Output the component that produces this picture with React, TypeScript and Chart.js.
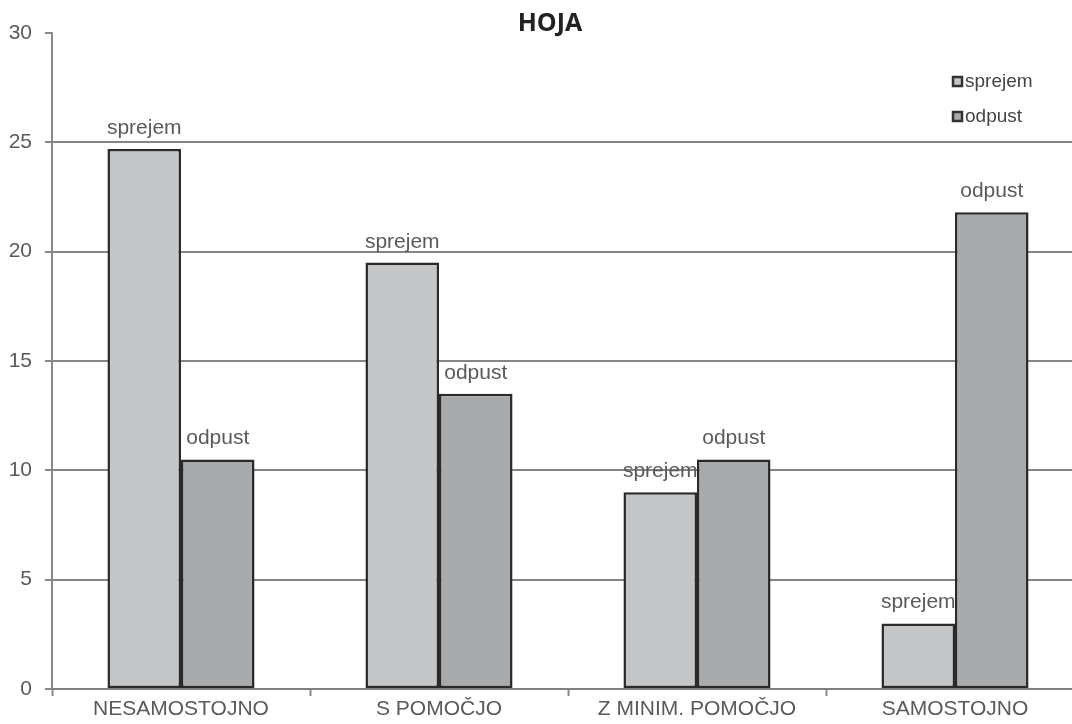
import React, { useEffect, useRef } from "react";
import { Chart, registerables } from "chart.js";

Chart.register(...registerables);

const TITLE = "HOJA";
const CATEGORIES = ["NESAMOSTOJNO", "S POMOČJO", "Z MINIM. POMOČJO", "SAMOSTOJNO"];
const SPREJEM = [24.7, 19.5, 9, 3];
const ODPUST = [10.5, 13.5, 10.5, 21.8];
const SERIES_NAMES = ["sprejem", "odpust"];
const SERIES_COLORS = ["#c5c6c8", "#a8aaac"];
const Y_MIN = 0;
const Y_MAX = 30;
const Y_STEP = 5;

const FONT = "'Liberation Sans', Arial, sans-serif";

const barLabels = {
  id: "barLabels",
  beforeDatasetsDraw(chart: any) {
    const ctx = chart.ctx;
    ctx.save();
    ctx.font = `21px ${FONT}`;
    ctx.fillStyle = "#5a5a5a";
    ctx.textAlign = "center";
    ctx.textBaseline = "alphabetic";
    chart.data.datasets.forEach((ds: any, i: number) => {
      const meta = chart.getDatasetMeta(i);
      meta.data.forEach((bar: any) => {
        ctx.fillText(ds.label, bar.x, bar.y - 15);
      });
    });
    ctx.restore();
  },
};

const titleAndLegend = {
  id: "titleAndLegend",
  afterDraw(chart: any) {
    const ctx = chart.ctx;
    ctx.save();
    ctx.font = `bold 25px 'Open Sans', 'DejaVu Sans', sans-serif`;
    ctx.fillStyle = "#222";
    ctx.textAlign = "center";
    ctx.textBaseline = "middle";
    ctx.fillText(TITLE, 550, 24);

    const lx = 952;
    const ly = [81, 116];
    ctx.font = `19px ${FONT}`;
    ctx.textAlign = "left";
    chart.data.datasets.forEach((ds: any, i: number) => {
      ctx.fillStyle = ds.backgroundColor;
      ctx.fillRect(lx, ly[i] - 5, 11, 11);
      ctx.strokeStyle = "#333";
      ctx.lineWidth = 2.5;
      ctx.strokeRect(lx + 1, ly[i] - 4, 9, 9);
      ctx.fillStyle = "#444";
      ctx.fillText(ds.label, lx + 13, ly[i] + 1);
    });
    ctx.restore();
  },
};

export default function App() {
  const ref = useRef<HTMLCanvasElement>(null);
  useEffect(() => {
    if (!ref.current) return;
    const chart = new Chart(ref.current, {
      type: "bar",
      data: {
        labels: CATEGORIES,
        datasets: [
          {
            label: SERIES_NAMES[0],
            data: SPREJEM,
            backgroundColor: SERIES_COLORS[0],
            borderColor: "#2a2a2a",
            borderWidth: 2.5,
            borderSkipped: false,
          },
          {
            label: SERIES_NAMES[1],
            data: ODPUST,
            backgroundColor: SERIES_COLORS[1],
            borderColor: "#2a2a2a",
            borderWidth: 2.5,
            borderSkipped: false,
          },
        ],
      },
      options: {
        animation: false,
        responsive: true,
        maintainAspectRatio: false,
        layout: { padding: { top: 33, right: 6, left: 0, bottom: 0 } },
        categoryPercentage: 0.57,
        barPercentage: 1.0,
        plugins: {
          legend: { display: false },
          title: { display: false },
          tooltip: { enabled: false },
        },
        scales: {
          x: {
            offset: true,
            grid: {
              display: true,
              drawOnChartArea: false,
              drawTicks: true,
              tickLength: 7,
              tickColor: "#888",
              tickWidth: 2,
              offset: true,
            },
            border: { display: true, color: "#808080", width: 2 },
            ticks: {
              color: "#5a5a5a",
              font: { family: FONT, size: 21 },
              padding: 1,
              maxRotation: 0,
              autoSkip: false,
            },
            afterFit(scale: any) {
              scale.height = 35;
            },
          },
          y: {
            min: Y_MIN,
            max: Y_MAX,
            grid: {
              color: (c: any) => (c.tick && c.tick.value === Y_MAX ? "rgba(0,0,0,0)" : "#858585"),
              lineWidth: 2,
              tickLength: 7,
              tickColor: "#888",
              tickWidth: 2,
            },
            border: { display: true, color: "#888", width: 2 },
            ticks: {
              stepSize: Y_STEP,
              color: "#5a5a5a",
              font: { family: FONT, size: 21 },
              padding: 13,
            },
            afterFit(scale: any) {
              scale.width = 52;
            },
          },
        },
      },
      plugins: [barLabels, titleAndLegend],
    });
    return () => chart.destroy();
  }, []);

  return (
    <div style={{ position: "absolute", left: 0, top: 0, width: 1072, height: 724, overflow: "hidden", background: "#fff" }}>
      <div style={{ position: "relative", width: 1090, height: 724 }}>
        <canvas ref={ref} />
      </div>
    </div>
  );
}
